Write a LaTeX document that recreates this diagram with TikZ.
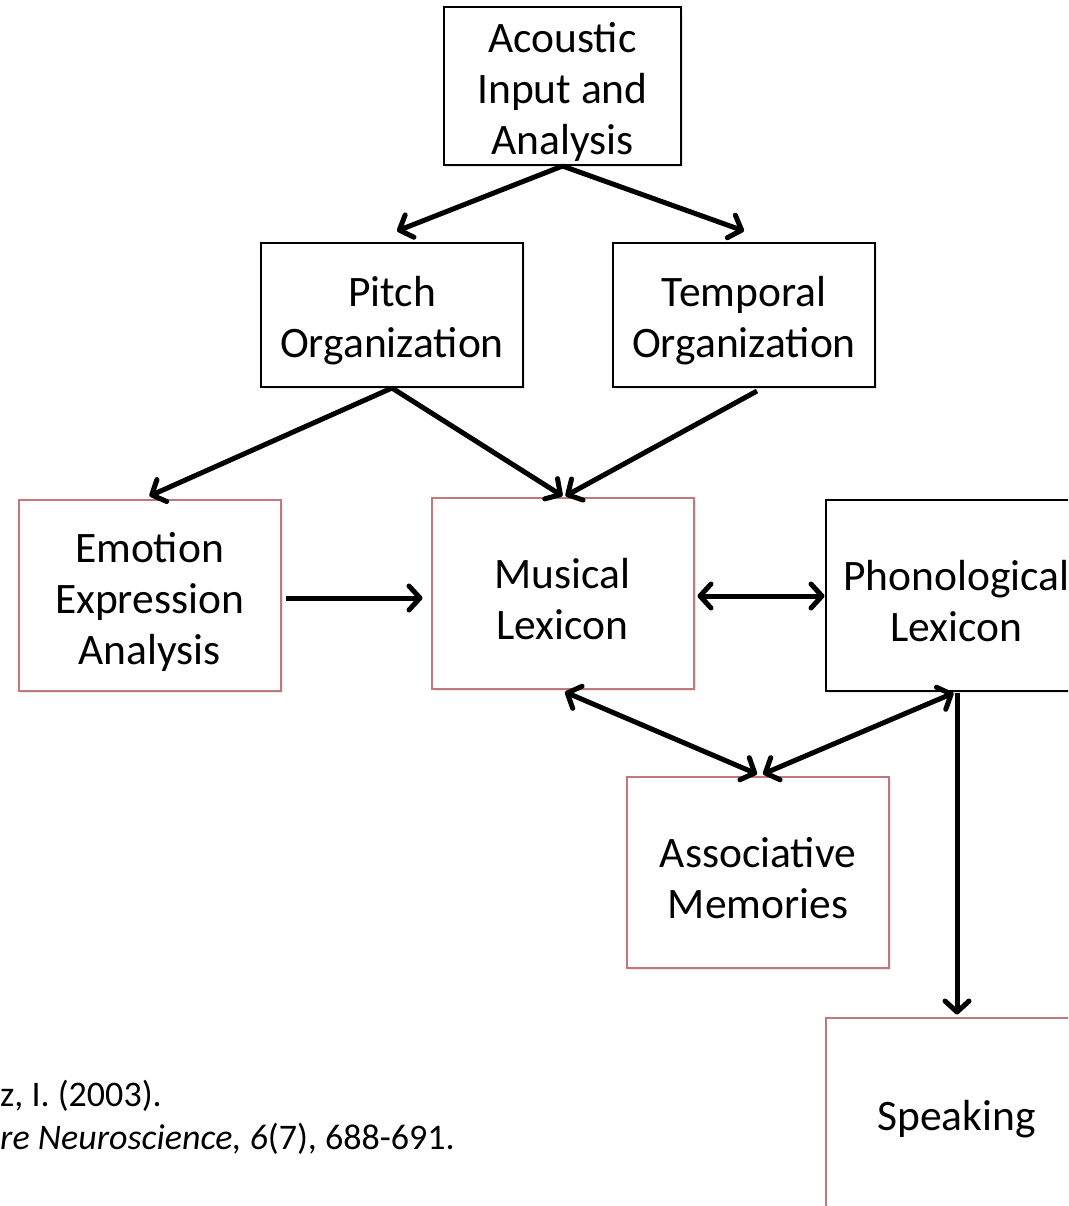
\documentclass[tikz,border=0pt]{standalone}
\usepackage{fontspec}
\setmainfont{Carlito}
\usetikzlibrary{arrows.meta,shadows}
\definecolor{redb}{RGB}{192,120,120}
\begin{document}
\begin{tikzpicture}[x=1pt,y=-1pt,
  box/.style={draw=black, line width=2pt, fill=white, inner sep=0pt,
    drop shadow={opacity=0.18, shadow xshift=2pt, shadow yshift=-2pt}},
  redbox/.style={box, draw=redb},
  txt/.style={align=center, inner sep=0pt, font=\fontsize{43.5}{51}\selectfont, yshift=-6pt},
  wide/.style={minimum width=262pt},
  tall/.style={minimum height=191pt},
  tip/.tip={Straight Barb[length=11pt,width=24pt,round]},
  arr/.style={line width=5pt, -tip},
  darr/.style={line width=5pt, tip-tip},
  cite/.style={anchor=west, align=left, inner sep=0pt, font=\fontsize{36}{43}\selectfont}]
\useasboundingbox (0,0) rectangle (1068,1206);
\clip (0,0) rectangle (1068,1206);
\fill[white] (0,0) rectangle (1068,1206);

\node[box, minimum width=237pt, minimum height=158pt] (A) at (562.5,86) {};
\node[box, wide, minimum height=144pt] (P) at (392,315) {};
\node[box, wide, minimum height=144pt] (T) at (744,315) {};
\node[redbox, wide, tall] (E) at (149.5,595.5) {};
\node[redbox, wide, tall] (M) at (562.5,593.5) {};
\node[box, wide, tall] (Ph) at (956.5,595.5) {};
\node[redbox, wide, tall] (As) at (758,872.5) {};
\node[redbox, wide, tall] (S) at (956.5,1113) {};

\node[txt] (At) at (A) {Acoustic\\Input and\\Analysis};
\node[txt] (Pt) at (P) {Pitch\\Organization};
\node[txt] (Tt) at (T) {Temporal\\Organization};
\node[txt] (Et) at (E) {Emotion\\Expression\\Analysis};
\node[txt] (Mt) at (M) {Musical\\Lexicon};
\node[txt] (Pht) at (Ph) {Phonological\\Lexicon};
\node[txt] (Ast) at (As) {Associative\\Memories};
\node[txt] (St) at (S) {Speaking};

\draw[arr] (A.south) -- ([shift={(5,-11)}]P.north);
\draw[arr] (A.south) -- ([shift={(0,-11)}]T.north);
\draw[arr] (P.south) -- ([shift={(0,-3)}]E.north);
\draw[arr] (P.south) -- ([shift={(0,-1)}]M.north);
\draw[arr] ([shift={(13,3)}]T.south) -- ([shift={(3,-1)}]M.north);
\draw[arr] ([shift={(4,2.5)}]E.east) -- ([shift={(-8,4.5)}]M.west);
\draw[darr] ([shift={(3,2.5)}]M.east) -- ([shift={(0,0.5)}]Ph.west);
\draw[darr] ([shift={(2.5,2)}]M.south) -- ([shift={(-1,-2)}]As.north);
\draw[darr] ([shift={(-3,1)}]Ph.south) -- ([shift={(5,-2)}]As.north);
\draw[arr] ([shift={(0.5,1)}]Ph.south) -- ([shift={(0.5,-2)}]S.north);

\node[cite] (C) at (0,1117) {z, I. (2003).\\\textit{re Neuroscience, 6}(7), 688-691.};
\end{tikzpicture}
\end{document}
